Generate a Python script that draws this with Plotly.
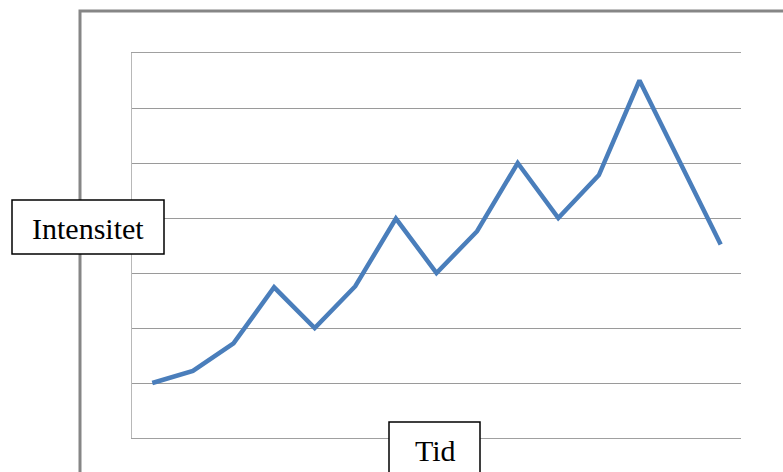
import plotly.graph_objects as go

# Data
tid = list(range(1, 16))
intensitet = [1.0, 1.22, 1.72, 2.74, 2.0, 2.76, 3.99, 3.0, 3.76, 5.0, 4.0, 4.78, 6.5, 5.0, 3.52]
y_ticks = [0, 1, 2, 3, 4, 5, 6, 7]

W, H = 783, 472
L, R, T, B = 132, 42, 53, 34
pw, ph = W - L - R, H - T - B

def px(x):
    return (x - L) / pw

def py(y):
    return (H - B - y) / ph

fig = go.Figure()
fig.add_trace(go.Scatter(
    x=tid, y=intensitet, mode="lines",
    line=dict(color="#4a7ebb", width=4.5),
    hoverinfo="skip", showlegend=False,
))

serif = "Liberation Serif, Times New Roman, serif"
shapes = [
    # outer border
    dict(type="rect", xref="paper", yref="paper",
         x0=px(80), x1=px(810), y0=py(510), y1=py(11),
         line=dict(color="#868686", width=3), fillcolor="rgba(0,0,0,0)", layer="above"),
    # Intensitet box
    dict(type="rect", xref="paper", yref="paper",
         x0=px(12), x1=px(164), y0=py(254), y1=py(200),
         line=dict(color="black", width=1.5), fillcolor="white", layer="above"),
    # Tid box
    dict(type="rect", xref="paper", yref="paper",
         x0=px(389), x1=px(480), y0=py(500), y1=py(422),
         line=dict(color="black", width=1.5), fillcolor="white", layer="above"),
]

annotations = [
    dict(text="Intensitet", xref="paper", yref="paper", x=px(88), y=py(228),
         xanchor="center", yanchor="middle", showarrow=False,
         font=dict(family=serif, size=30, color="black")),
    dict(text="Tid", xref="paper", yref="paper", x=px(435), y=py(451),
         xanchor="center", yanchor="middle", showarrow=False,
         font=dict(family=serif, size=30, color="black")),
]

fig.update_layout(
    width=W, height=H,
    margin=dict(l=L, r=R, t=T, b=B, pad=0),
    paper_bgcolor="white", plot_bgcolor="white",
    shapes=shapes, annotations=annotations,
    xaxis=dict(range=[0.5, 15.5], showgrid=False, showticklabels=False, ticks="",
               zeroline=False, showline=True, mirror=True, linecolor="#a0a0a0", linewidth=1,
               fixedrange=True),
    yaxis=dict(range=[0, 7], tickvals=y_ticks, showgrid=True, gridcolor="#9a9a9a",
               gridwidth=1, showticklabels=False, ticks="", zeroline=False,
               showline=True, linecolor="#b8b8b8", linewidth=1, fixedrange=True),
    showlegend=False,
)

fig.write_html("out.html", config={"displayModeBar": False})
